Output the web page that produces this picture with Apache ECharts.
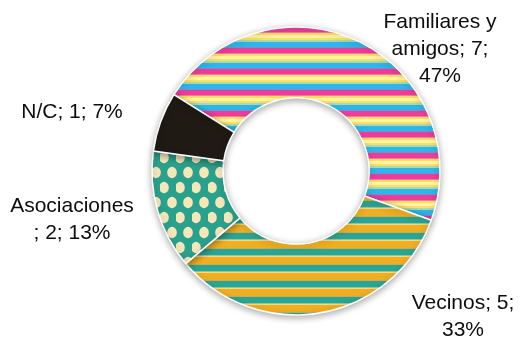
<!DOCTYPE html>
<html>
<head>
<meta charset="utf-8">
<script src="https://cdn.jsdelivr.net/npm/echarts@6/dist/echarts.min.js"></script>
<style>
  html, body { margin: 0; padding: 0; background: #ffffff; }
  #chart { width: 522px; height: 342px; }
</style>
</head>
<body>
<div id="chart"></div>
<script>
// Who people turn to: counts per group
const categories = ['Familiares y amigos', 'Vecinos', 'Asociaciones', 'N/C'];
const counts = [7, 5, 2, 1];
const labelLines = [
  ['Familiares y', 'amigos; 7;', '47%'],
  ['Vecinos; 5;', '33%'],
  ['Asociaciones', '; 2; 13%'],
  ['N/C; 1; 7%']
];

// Fill textures for each slice, painted on small repeating canvases
function tile(w, h, paint) {
  const c = document.createElement('canvas');
  c.width = w; c.height = h;
  paint(c.getContext('2d'), w, h);
  return { image: c, repeat: 'repeat' };
}

function rows(ctx, w, list) {
  let y = 0;
  list.forEach(([color, n]) => { ctx.fillStyle = color; ctx.fillRect(0, y, w, n); y += n; });
}

const stripesRainbow = tile(8, 21, (ctx, w) => rows(ctx, w, [
  ['#2bb7ea', 5], ['#7a8fd0', 1], ['#ee3c9d', 5], ['#f47aa0', 1],
  ['#fbe25e', 2], ['#fff4a6', 3], ['#fbe25e', 2], ['#a9d9b6', 2]
]));

const stripesOrangeTeal = tile(8, 16, (ctx, w) => rows(ctx, w, [
  ['#f5d98a', 1], ['#f1ae22', 7], ['#c9ae4e', 1], ['#2ba593', 6], ['#8fc9a4', 1]
]));

const dots = tile(16, 30, (ctx, w, h) => {
  ctx.fillStyle = '#2aa18d';
  ctx.fillRect(0, 0, w, h);
  const dot = (x, y) => {
    ctx.fillStyle = '#f6e7b8';
    ctx.beginPath(); ctx.ellipse(x, y, 4.8, 5.8, 0, 0, Math.PI * 2); ctx.fill();
  };
  [[4, 7.5], [12, 22.5], [20, 22.5], [-4, 22.5], [4, 37.5], [12, -7.5]].forEach(p => dot(p[0], p[1]));
});

const fills = [stripesRainbow, stripesOrangeTeal, dots, '#1f1a13'];
const labelSpots = [[440, 49], [463, 317], [72, 220], [72, 112]];

const chart = echarts.init(document.getElementById('chart'), null, { renderer: 'canvas' });

chart.setOption({
  animation: false,
  backgroundColor: '#ffffff',
  series: [{
    type: 'pie',
    center: [296, 171],
    radius: [73, 144],
    startAngle: 148,
    clockwise: true,
    avoidLabelOverlap: false,
    data: categories.map((name, i) => ({
      name: name,
      value: counts[i],
      itemStyle: { color: fills[i] },
      label: { formatter: labelLines[i].join('\n') }
    })),
    itemStyle: {
      borderColor: '#ffffff',
      borderWidth: 1.5,
      shadowBlur: 7,
      shadowColor: 'rgba(0,0,0,0.32)',
      shadowOffsetY: 2
    },
    label: {
      show: true,
      position: 'outside',
      fontFamily: 'Liberation Sans, Arial, sans-serif',
      fontSize: 21,
      lineHeight: 27,
      color: '#0d0d0d',
      align: 'center'
    },
    labelLine: { show: false },
    labelLayout: function (p) {
      const s = labelSpots[p.dataIndex];
      return { x: s[0], y: s[1], align: 'center', verticalAlign: 'middle' };
    },
    emphasis: { disabled: true }
  }]
});
</script>
</body>
</html>
